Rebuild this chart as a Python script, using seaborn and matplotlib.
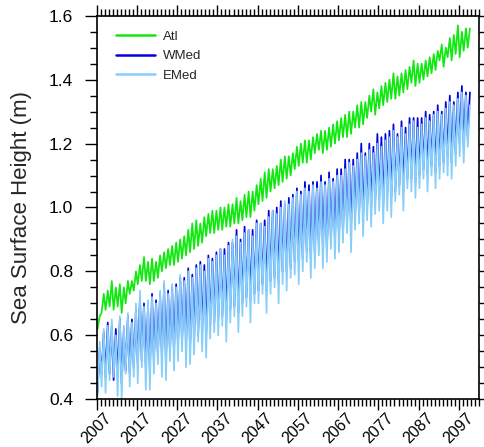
import numpy as np
import pandas as pd
import matplotlib
matplotlib.use("Agg")
import matplotlib.pyplot as plt
from matplotlib.ticker import MultipleLocator
import seaborn as sns

# years 2007..2099, one seasonal high and one seasonal low per year (m)
years = list(range(2007, 2100))

atl_hi = [0.66, 0.73, 0.74, 0.77, 0.75, 0.76, 0.75, 0.77, 0.77, 0.80,
          0.82, 0.845, 0.83, 0.84, 0.83, 0.85, 0.86, 0.87, 0.88, 0.89,
          0.90, 0.91, 0.93, 0.95, 0.96, 0.95, 0.97, 0.98, 0.99, 0.99,
          1.00, 1.00, 1.01, 1.01, 1.03, 1.02, 1.04, 1.05, 1.05, 1.07,
          1.09, 1.11, 1.12, 1.12, 1.13, 1.15, 1.16, 1.16, 1.17, 1.19,
          1.20, 1.21, 1.21, 1.22, 1.23, 1.24, 1.24, 1.25, 1.26, 1.27,
          1.28, 1.29, 1.30, 1.30, 1.32, 1.33, 1.33, 1.35, 1.37, 1.36,
          1.38, 1.39, 1.40, 1.42, 1.41, 1.42, 1.43, 1.44, 1.46, 1.45,
          1.45, 1.46, 1.47, 1.48, 1.49, 1.51, 1.50, 1.53, 1.54, 1.57,
          1.55, 1.56, 1.56]
atl_lo = [0.62, 0.67, 0.68, 0.69, 0.68, 0.69, 0.67, 0.70, 0.73, 0.74,
          0.76, 0.77, 0.77, 0.76, 0.77, 0.78, 0.80, 0.81, 0.82, 0.82,
          0.83, 0.84, 0.85, 0.86, 0.87, 0.88, 0.89, 0.91, 0.92, 0.92,
          0.93, 0.93, 0.94, 0.94, 0.95, 0.95, 0.96, 0.97, 0.97, 0.99,
          1.01, 1.02, 1.03, 1.05, 1.06, 1.07, 1.08, 1.09, 1.10, 1.12,
          1.13, 1.14, 1.14, 1.15, 1.17, 1.18, 1.17, 1.18, 1.19, 1.20,
          1.21, 1.22, 1.22, 1.23, 1.25, 1.25, 1.26, 1.28, 1.30, 1.29,
          1.31, 1.32, 1.33, 1.34, 1.34, 1.35, 1.36, 1.37, 1.39, 1.38,
          1.39, 1.40, 1.41, 1.42, 1.43, 1.46, 1.44, 1.47, 1.46, 1.48,
          1.47, 1.49, 1.50]

wmed_hi = [0.56, 0.61, 0.64, 0.63, 0.62, 0.65, 0.62, 0.66, 0.65, 0.68,
           0.72, 0.70, 0.69, 0.73, 0.71, 0.73, 0.76, 0.74, 0.75, 0.76,
           0.78, 0.78, 0.81, 0.79, 0.82, 0.83, 0.82, 0.85, 0.84, 0.86,
           0.87, 0.87, 0.89, 0.89, 0.93, 0.90, 0.94, 0.93, 0.93, 0.96,
           0.95, 0.96, 0.99, 0.99, 1.00, 1.02, 1.01, 1.03, 1.04, 1.06,
           1.05, 1.08, 1.07, 1.08, 1.08, 1.10, 1.08, 1.11, 1.09, 1.12,
           1.12, 1.15, 1.15, 1.15, 1.17, 1.20, 1.17, 1.20, 1.19, 1.23,
           1.22, 1.23, 1.24, 1.26, 1.23, 1.27, 1.25, 1.28, 1.28, 1.28,
           1.28, 1.30, 1.29, 1.30, 1.32, 1.30, 1.33, 1.35, 1.33, 1.36,
           1.38, 1.36, 1.36]
wmed_lo = [0.42, 0.48, 0.47, 0.48, 0.46, 0.47, 0.45, 0.49, 0.48, 0.50,
           0.51, 0.52, 0.50, 0.49, 0.52, 0.54, 0.53, 0.52, 0.55, 0.55,
           0.57, 0.58, 0.57, 0.56, 0.59, 0.60, 0.61, 0.60, 0.63, 0.64,
           0.65, 0.66, 0.65, 0.68, 0.69, 0.67, 0.70, 0.72, 0.71, 0.73,
           0.74, 0.76, 0.74, 0.77, 0.78, 0.77, 0.80, 0.80, 0.81, 0.83,
           0.83, 0.84, 0.86, 0.84, 0.86, 0.88, 0.88, 0.87, 0.90, 0.90,
           0.91, 0.92, 0.95, 0.94, 0.97, 0.98, 0.97, 1.00, 1.00, 1.02,
           1.03, 1.01, 1.04, 1.03, 1.05, 1.07, 1.05, 1.09, 1.09, 1.08,
           1.10, 1.12, 1.11, 1.13, 1.11, 1.13, 1.14, 1.16, 1.14, 1.17,
           1.20, 1.19, 1.22]

emed_hi = [0.58, 0.62, 0.63, 0.65, 0.60, 0.66, 0.63, 0.67, 0.64, 0.70,
           0.74, 0.69, 0.71, 0.72, 0.70, 0.74, 0.77, 0.73, 0.76, 0.75,
           0.79, 0.77, 0.80, 0.78, 0.81, 0.82, 0.80, 0.84, 0.83, 0.85,
           0.87, 0.85, 0.88, 0.90, 0.91, 0.89, 0.92, 0.93, 0.91, 0.95,
           0.95, 0.94, 0.97, 0.99, 0.98, 1.00, 1.02, 1.01, 1.03, 1.05,
           1.04, 1.06, 1.05, 1.07, 1.06, 1.08, 1.07, 1.09, 1.08, 1.10,
           1.10, 1.12, 1.14, 1.13, 1.15, 1.17, 1.16, 1.18, 1.17, 1.20,
           1.19, 1.21, 1.22, 1.24, 1.22, 1.25, 1.23, 1.26, 1.27, 1.25,
           1.26, 1.28, 1.27, 1.29, 1.30, 1.29, 1.31, 1.33, 1.32, 1.34,
           1.36, 1.35, 1.32]
emed_lo = [0.41, 0.44, 0.42, 0.46, 0.47, 0.41, 0.40, 0.48, 0.44, 0.47,
           0.45, 0.50, 0.43, 0.43, 0.48, 0.51, 0.47, 0.46, 0.52, 0.49,
           0.52, 0.55, 0.50, 0.51, 0.54, 0.58, 0.55, 0.53, 0.59, 0.61,
           0.60, 0.63, 0.58, 0.64, 0.66, 0.61, 0.66, 0.69, 0.64, 0.70,
           0.70, 0.73, 0.67, 0.73, 0.75, 0.70, 0.76, 0.74, 0.78, 0.79,
           0.76, 0.80, 0.83, 0.78, 0.81, 0.85, 0.81, 0.83, 0.87, 0.84,
           0.86, 0.89, 0.92, 0.86, 0.93, 0.95, 0.91, 0.96, 0.94, 0.98,
           0.99, 0.95, 0.99, 0.97, 1.02, 1.04, 0.99, 1.06, 1.05, 1.03,
           1.06, 1.09, 1.05, 1.10, 1.06, 1.09, 1.11, 1.10, 1.09, 1.13,
           1.16, 1.14, 1.19]

regions = ["Atl", "WMed", "EMed"]
colors = ["#10e810", "#0000dd", "#87cefa"]

# build a long table: seasonal low in spring, high in autumn
rows = []
for name, lo, hi in [("Atl", atl_lo, atl_hi), ("WMed", wmed_lo, wmed_hi),
                     ("EMed", emed_lo, emed_hi)]:
    for y, a, b in zip(years, lo, hi):
        rows.append((name, y + 0.2, a))
        rows.append((name, y + 0.75, b))
df = pd.DataFrame(rows, columns=["region", "time", "ssh"])

sns.set_style("ticks")
plt.rcParams["font.family"] = ["Liberation Sans", "DejaVu Sans"]

fig = plt.figure(figsize=(4.85, 4.47), dpi=100)
ax = fig.add_axes([0.1994, 0.1067, 0.7882, 0.8582])

sns.lineplot(data=df, x="time", y="ssh", hue="region", hue_order=regions,
             palette=colors, estimator=None, sort=False, lw=1.25, ax=ax)

ax.set_xlim(2007, 2102)
ax.set_ylim(0.4, 1.6)
ax.xaxis.set_minor_locator(MultipleLocator(1))
ax.yaxis.set_minor_locator(MultipleLocator(0.05))
ax.set_yticks([0.4, 0.6, 0.8, 1.0, 1.2, 1.4, 1.6])
ax.set_yticklabels(["0.4", "0.6", "0.8", "1.0", "1.2", "1.4", "1.6"])
ax.set_xticks(list(range(2007, 2100, 10)))
ax.set_xticklabels([str(y) for y in range(2007, 2100, 10)],
                   rotation=45, ha="center", fontsize=11.5)

ax.tick_params(which="both", direction="out", top=True, right=True,
               colors="black", width=1.0)
ax.tick_params(axis="y", which="major", length=9, pad=8, labelsize=12.5)
ax.tick_params(axis="x", which="major", length=8, pad=0)
ax.tick_params(which="minor", length=5)
for s in ax.spines.values():
    s.set_linewidth(1.2)
    s.set_color("black")

ax.set_xlabel("")
ax.set_ylabel("Sea Surface Height (m)", fontsize=16, labelpad=12)

leg = ax.legend(loc="upper left", frameon=False, fontsize=9.5,
                handlelength=3.0, handletextpad=0.6, labelspacing=0.55,
                borderaxespad=0.3, bbox_to_anchor=(0.025, 0.985))
for line in leg.get_lines():
    line.set_linewidth(1.8)

fig.savefig("out.png", dpi=100)
